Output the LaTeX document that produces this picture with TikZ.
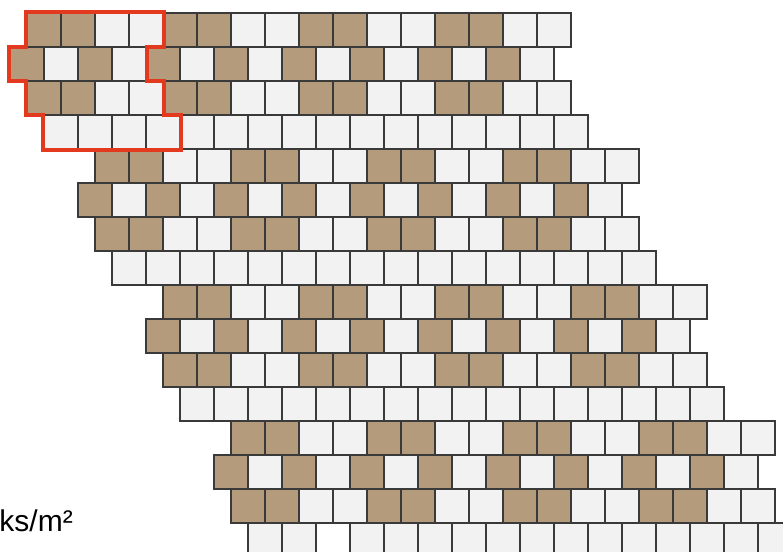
\documentclass[tikz,border=0pt]{standalone}
\usepackage{fontspec}
\setmainfont{Liberation Sans}
\definecolor{tilebrown}{HTML}{B39B7C}
\definecolor{tilelight}{HTML}{F2F2F2}
\definecolor{tileline}{HTML}{3A3A3A}
\definecolor{unitred}{HTML}{E2391F}
\tikzset{every picture/.style={line width=0.75pt}}
\tikzset{
  paver/.style={draw=tileline, line width=1.1pt},
  unitline/.style={draw=unitred, line width=2.6pt, line join=miter},
}

\begin{document}
\begin{tikzpicture}[x=0.75pt,y=0.75pt,yscale=-1,xscale=1]
    %set diagram left start at 0, and has height of 551
    \useasboundingbox (0,0) rectangle (783,551);
    \begin{scope}
    \clip (0,0) rectangle (783,551);
    %Pavers: 4 groups of 4 rows, 16 blocks each
    \foreach \g in {0,...,3}{
      \foreach \j/\dx in {0/0,1/-17,2/0,3/17}{
        \foreach \k in {0,...,15}{
          \pgfmathsetmacro{\px}{27+68*\g+\dx+34*\k}
          \pgfmathsetmacro{\py}{13+136*\g+34*\j}
          \pgfmathtruncatemacro{\isbrown}{((\j==1)&&(mod(\k,2)==0)) || (((\j==0)||(\j==2))&&(mod(\k,4)<2))}
          \pgfmathtruncatemacro{\isgap}{(\g==3)&&(\j==3)&&(\k==2)}
          \ifnum\isbrown=1 \def\fc{tilebrown}\else\def\fc{tilelight}\fi
          \ifnum\isgap=1 \def\fc{white}\fi
          %Shape: Square
          \draw[paver, fill=\fc] (\px,\py) rectangle ++(34,34) ;
        }
      }
    }
    \end{scope}
    %Shape: laying unit outline
    \draw[unitline] (26,12) -- (164,12) -- (164,47) -- (147,47) -- (147,81) -- (164,81) -- (164,115) -- (181,115) -- (181,150) -- (43,150) -- (43,115) -- (26,115) -- (26,81) -- (9,81) -- (9,47) -- (26,47) -- cycle ;
    %Text Node
    \node[anchor=base west, inner sep=0pt, font=\fontsize{22.5}{27}\selectfont] (density) at (-1,531) {ks/m²};
\end{tikzpicture}
\end{document}
